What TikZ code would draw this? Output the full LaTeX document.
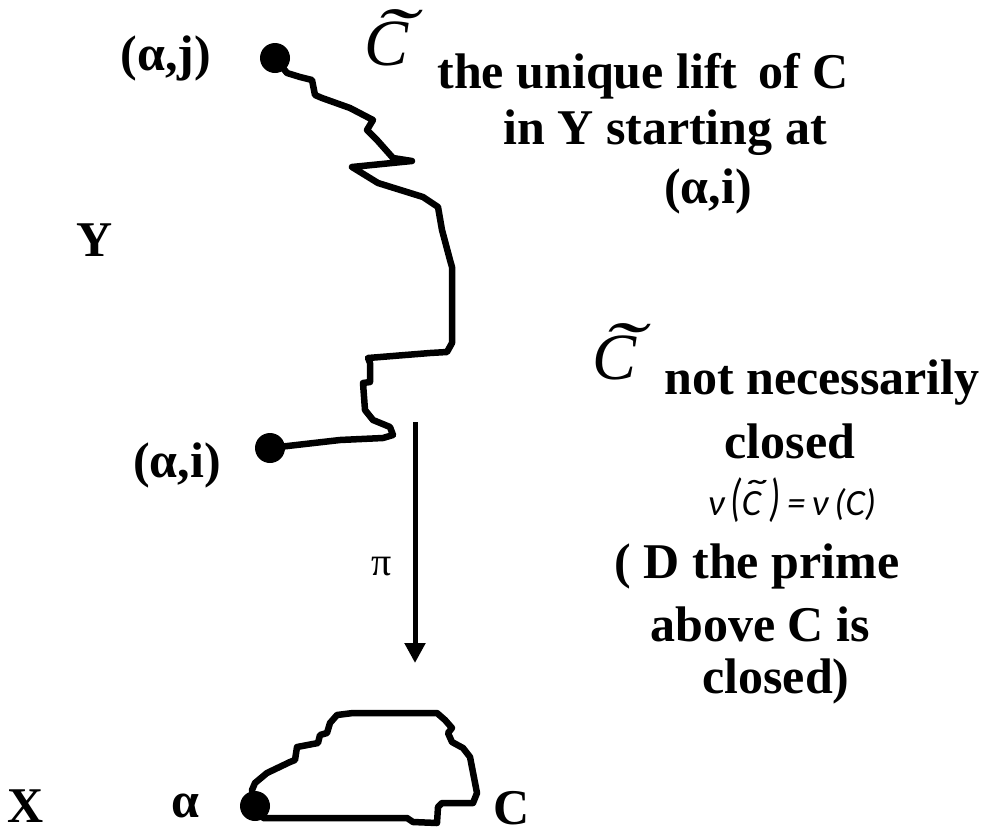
\documentclass[tikz,border=0pt]{standalone}
\usepackage{fontspec}
\usepackage{graphicx}
\setmainfont{Liberation Serif}
\newfontfamily\formfont{Carlito}
\usetikzlibrary{arrows.meta}
\tikzset{
  lbl/.style={font=\fontsize{50}{57}\selectfont\bfseries, inner sep=0pt},
  small/.style={font=\fontsize{40}{40}\selectfont, inner sep=0pt},
  formula/.style={font=\fontsize{37}{37}\selectfont\formfont\itshape, inner sep=0pt},
  tildec/.style={font=\fontsize{66}{66}\selectfont, inner sep=0pt},
  dotnode/.style={circle, fill=black, minimum size=30pt, inner sep=0pt},
  curve/.style={line width=6.5pt, line join=round, line cap=round},
  maparrow/.style={line width=5pt, -{Triangle[length=20pt,width=20pt]}},
}
% C with a wide tilde above it: #1 font, #2 horizontal shift, #3 raise
\newcommand{\tildeC}[3]{{#1\ooalign{\hfil\kern#2\raisebox{#3}{\scalebox{1.9}[1.1]{\char"02DC}}\hfil\cr C\cr}}}
\begin{document}
\begin{tikzpicture}[x=1pt,y=-1pt]
\useasboundingbox (0,0) rectangle (985,836);

% dots
\node[dotnode] (aj) at (275,58) {};
\node[dotnode] (ai) at (270,448) {};
\node[dotnode] (a0) at (255,806) {};

% lift of C in Y
\draw[curve] (aj.center) -- (287,73) -- (300,77) -- (312,80) -- (315,95) -- (322,98)
  -- (350,108) -- (373,120) -- (367,130) -- (377,140) -- (393,158) -- (412,161)
  -- (352,167) -- (378,183) -- (423,197) -- (438,207) -- (442,230) -- (450,260)
  -- (452,267) -- (452,343) -- (447,352) -- (430,353) -- (368,358) -- (370,363)
  -- (370,382) -- (363,383) -- (365,410) -- (373,420) -- (390,427) -- (393,435)
  -- (383,438) -- (340,440) -- (ai.center);

% closed curve C in X
\draw[curve] (a0.center) -- (252,790) -- (255,783) -- (267,773) -- (290,762) -- (295,760)
  -- (297,747) -- (318,743) -- (320,735) -- (327,733) -- (330,723) -- (337,715)
  -- (353,713) -- (437,713) -- (445,720) -- (452,728) -- (448,733) -- (452,742)
  -- (463,748) -- (470,757) -- (477,793) -- (473,803) -- (442,803) -- (438,807)
  -- (437,823) -- (413,822) -- (407,818) -- (263,818) -- (a0.center);

% projection arrow
\coordinate (ptop) at (415,422);
\coordinate (pbot) at (415,663);
\draw[maparrow] (ptop) -- (pbot);
\node[small] (pi) at (382,567) {π};

% labels
\node[lbl] (laj) at (166,58) {(α,j)};
\node[lbl] (lai) at (177,465) {(α,i)};
\node[lbl] (lY) at (95,240) {Y};
\node[lbl] (lX) at (26,806) {X};
\node[lbl] (lal) at (185,806) {α};
\node[lbl] (lC) at (512,808) {C};

% top texts
\node[tildec] (ct1) at (390,38) {\tildeC{\itshape}{0.14em}{0.1em}};
\node[lbl] (t1) at (643,76) {the unique lift\, of C};
\node[lbl] (t2) at (665,133) {in Y starting at};
\node[lbl] (t3) at (708,191) {(α,i)};

% right texts
\node[tildec] (ct2) at (618,352) {\tildeC{\itshape}{0.14em}{0.1em}};
\node[lbl] (r1) at (822,383) {not necessarily};
\node[lbl] (r2) at (790,441) {closed};
\node[formula] (r3) at (792,500) {ν\,\scalebox{1}[1.4]{(}\tildeC{\formfont\itshape}{-0.1em}{0.22em}\scalebox{1}[1.4]{)}\,=\,ν\,(C)};
\node[lbl] (r4) at (757,566) {( D the prime};
\node[lbl] (r5) at (760,624) {above C is};
\node[lbl] (r6) at (776,681) {closed)};
\end{tikzpicture}
\end{document}
